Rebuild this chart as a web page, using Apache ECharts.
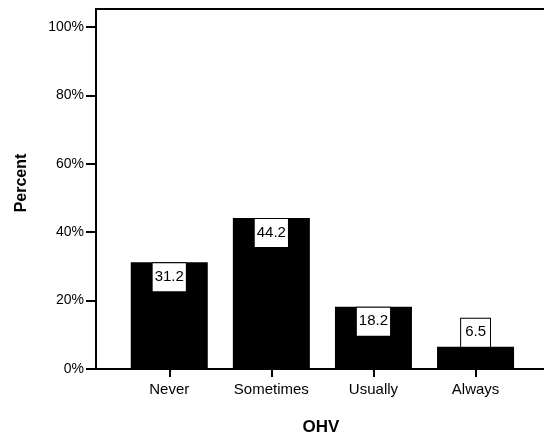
<!DOCTYPE html>
<html>
<head>
<meta charset="utf-8">
<script src="https://cdn.jsdelivr.net/npm/echarts@6/dist/echarts.min.js"></script>
<style>html,body{margin:0;padding:0;background:#fff}#c{width:544px;height:438px}</style>
</head>
<body>
<div id="c"></div>
<script>
const categories = ['Never', 'Sometimes', 'Usually', 'Always'];
const percents = [31.2, 44.2, 18.2, 6.5];
const yTicks = [0, 20, 40, 60, 80, 100];
const xAxisTitle = 'OHV';
const yAxisTitle = 'Percent';

const FONT = 'Liberation Sans, Arial, sans-serif';
const catIdx = categories.map((c, i) => i);

const barData = percents.map((v, i) => {
  const item = { value: [i, v] };
  if (v < 10) {
    item.label = { position: 'top', distance: 0, padding: [6, 4, 7, 4] };
  }
  return item;
});

const chart = echarts.init(document.getElementById('c'), null, { renderer: 'canvas' });
chart.setOption({
  animation: false,
  backgroundColor: '#fff',
  grid: { left: 96, right: -2, top: 9, bottom: 69, show: true, borderColor: '#000', borderWidth: 2, backgroundColor: 'transparent', containLabel: false, outerBoundsMode: 'none' },
  xAxis: {
    type: 'value',
    min: -0.7176,
    max: 3.69,
    splitLine: { show: false },
    axisLine: { show: true, onZero: false, lineStyle: { color: '#000', width: 2 } },
    axisTick: { show: true, customValues: catIdx, length: 8, lineStyle: { color: '#000', width: 2 } },
    axisLabel: { customValues: catIdx, formatter: v => categories[Math.round(v)] || '', color: '#000', fontFamily: FONT, fontSize: 15, margin: 13 },
    name: xAxisTitle,
    nameLocation: 'middle',
    nameGap: 50,
    nameTextStyle: { color: '#000', fontFamily: FONT, fontSize: 17, fontWeight: 'bold' }
  },
  yAxis: {
    type: 'value',
    min: 0,
    max: 105.3,
    splitLine: { show: false },
    axisLine: { show: true, onZero: false, lineStyle: { color: '#000', width: 2 } },
    axisTick: { show: true, customValues: yTicks, length: 10, lineStyle: { color: '#000', width: 2 } },
    axisLabel: { customValues: yTicks, formatter: v => v + '%', color: '#000', fontFamily: FONT, fontSize: 14, margin: 12 },
    name: yAxisTitle,
    nameLocation: 'middle',
    nameGap: 66,
    nameRotate: 90,
    nameTextStyle: { color: '#000', fontFamily: FONT, fontSize: 16, fontWeight: 'bold', padding: [0, 0, 0, 12] }
  },
  series: [{
    type: 'bar',
    data: barData,
    barWidth: 77,
    itemStyle: { color: '#000' },
    label: {
      show: true,
      position: 'insideTop',
      distance: 1,
      formatter: p => p.value[1].toFixed(1),
      color: '#000',
      fontFamily: FONT,
      fontSize: 15,
      lineHeight: 15,
      backgroundColor: '#fff',
      borderColor: '#000',
      borderWidth: 1,
      padding: [6, 2, 7, 2]
    }
  }]
});
</script>
</body>
</html>
